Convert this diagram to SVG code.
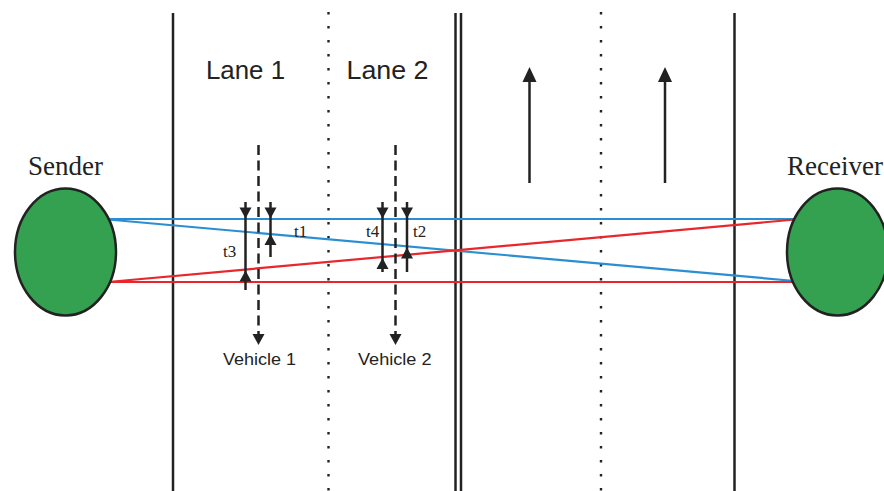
<svg xmlns="http://www.w3.org/2000/svg" xmlns:xlink="http://www.w3.org/1999/xlink" width="884" height="491" viewBox="0 0 884 491">
<style>
.road{stroke:#222;stroke-width:2.5;fill:none}
.dot{stroke:#222;stroke-width:2.4;fill:none;stroke-dasharray:2.4 11.6}
.blue{stroke:#2a8fd2;stroke-width:2.2;fill:none}
.red{stroke:#e8262b;stroke-width:2.2;fill:none}
.ar{stroke:#222;stroke-width:2.5;fill:none}
.dash{stroke:#222;stroke-width:2.5;fill:none;stroke-dasharray:10 5.5}
.head{fill:#222}
.node{fill:#33a14f;stroke:#222;stroke-width:2.5}
.big{font-family:"Liberation Serif","Times New Roman",serif;font-size:27px;fill:#222}
.t{font-family:"Liberation Serif","Times New Roman",serif;font-size:17px;fill:#222}
.lane{font-family:"Liberation Sans",Arial,sans-serif;font-size:25px;fill:#222}
.veh{font-family:"Liberation Sans",Arial,sans-serif;font-size:16px;fill:#222}
</style>
<defs>
<path id="hd" d="M0,0 L-6,-11 L6,-11 Z"/>
<path id="hu" d="M0,0 L-6,11 L6,11 Z"/>
</defs>
<rect width="884" height="491" fill="#fff"/>
<g id="road">
<line class="road" x1="173" y1="13" x2="173" y2="491"/>
<line class="dot" x1="328.5" y1="12" x2="328.5" y2="491"/>
<line class="road" x1="455.5" y1="13" x2="455.5" y2="491"/>
<line class="road" x1="461" y1="13" x2="461" y2="491"/>
<line class="dot" x1="601" y1="12" x2="601" y2="491"/>
<line class="road" x1="734.5" y1="13" x2="734.5" y2="491"/>
<text class="lane" x="206" y="79" textLength="79" lengthAdjust="spacingAndGlyphs">Lane 1</text>
<text class="lane" x="346.5" y="79" textLength="82" lengthAdjust="spacingAndGlyphs">Lane 2</text>
<line class="ar" x1="529.5" y1="183" x2="529.5" y2="78"/>
<path class="head" d="M529.5,67 L522.5,82 L536.5,82 Z"/>
<line class="ar" x1="665" y1="183" x2="665" y2="78"/>
<path class="head" d="M665,67 L658,82 L672,82 Z"/>
</g>
<g id="connectors">
<line class="blue" x1="108" y1="219" x2="795" y2="219"/>
<line class="blue" x1="108" y1="219.5" x2="795" y2="281"/>
<line class="red" x1="108" y1="282" x2="795" y2="282"/>
<line class="red" x1="108" y1="282" x2="795" y2="219.5"/>
<g id="vehicle1">
<line class="dash" x1="258.5" y1="145" x2="258.5" y2="336"/>
<path class="head" d="M258.5,345 L252.5,334 L264.5,334 Z"/>
<text class="veh" x="223" y="365" textLength="73" lengthAdjust="spacingAndGlyphs">Vehicle 1</text>
</g>
<g id="vehicle2">
<line class="dash" x1="395.5" y1="145" x2="395.5" y2="336"/>
<path class="head" d="M395.5,345 L389.5,334 L401.5,334 Z"/>
<text class="veh" x="358" y="365" textLength="73.5" lengthAdjust="spacingAndGlyphs">Vehicle 2</text>
</g>
<g id="t3">
<line class="ar" x1="245.5" y1="202" x2="245.5" y2="290"/>
<use xlink:href="#hd" href="#hd" class="head" x="245.5" y="218.5"/>
<use xlink:href="#hu" href="#hu" class="head" x="245.5" y="270.5"/>
<text class="t" x="223" y="257">t3</text>
</g>
<g id="t1">
<line class="ar" x1="270.5" y1="202" x2="270.5" y2="257"/>
<use xlink:href="#hd" href="#hd" class="head" x="270.5" y="218.5"/>
<use xlink:href="#hu" href="#hu" class="head" x="270.5" y="234"/>
<text class="t" x="294" y="237">t1</text>
</g>
<g id="t4">
<line class="ar" x1="382.5" y1="202" x2="382.5" y2="272"/>
<use xlink:href="#hd" href="#hd" class="head" x="382.5" y="218.5"/>
<use xlink:href="#hu" href="#hu" class="head" x="382.5" y="258"/>
<text class="t" x="366" y="237">t4</text>
</g>
<g id="t2">
<line class="ar" x1="407" y1="202" x2="407" y2="272"/>
<use xlink:href="#hd" href="#hd" class="head" x="407" y="218.5"/>
<use xlink:href="#hu" href="#hu" class="head" x="407" y="247.5"/>
<text class="t" x="413" y="237">t2</text>
</g>
</g>
<g id="sender">
<ellipse class="node" cx="65.5" cy="252" rx="50.5" ry="63.5"/>
<text class="big" x="28" y="175">Sender</text>
</g>
<g id="receiver">
<ellipse class="node" cx="837.5" cy="252" rx="50.5" ry="63.5"/>
<text class="big" x="787" y="175">Receiver</text>
</g>
</svg>
